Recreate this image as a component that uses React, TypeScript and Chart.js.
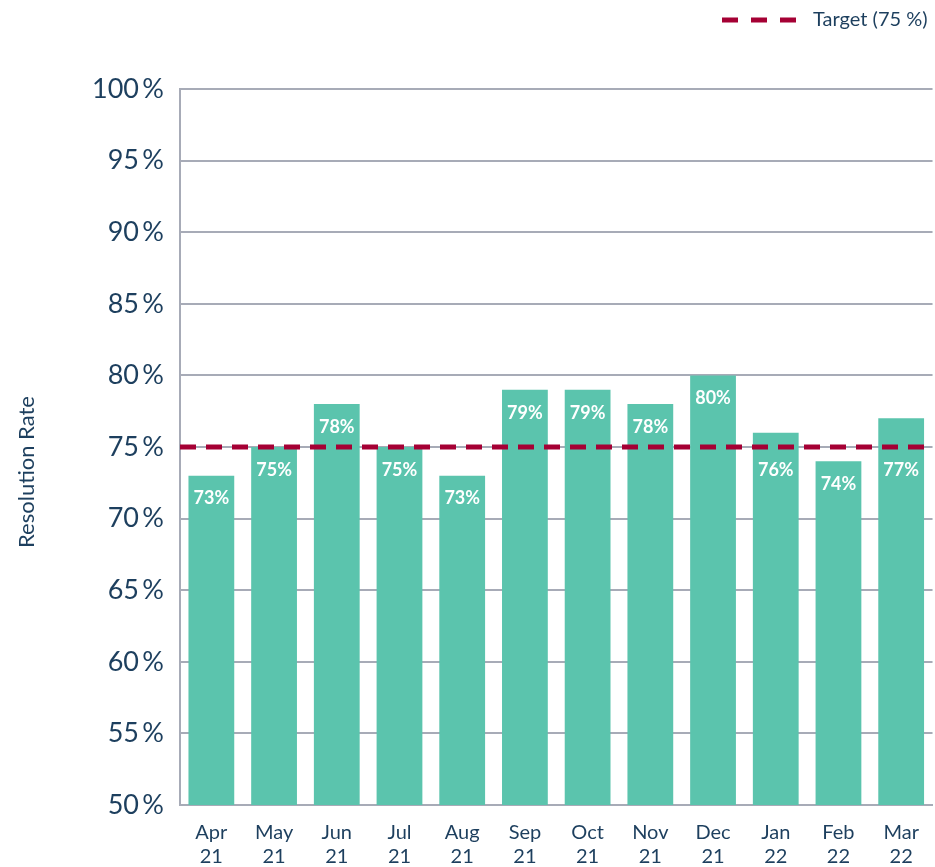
import React, { useEffect, useRef } from "react";
import { Chart, registerables } from "chart.js";

Chart.register(...registerables);

const MONTHS = ["Apr", "May", "Jun", "Jul", "Aug", "Sep", "Oct", "Nov", "Dec", "Jan", "Feb", "Mar"];
const YEARS = ["21", "21", "21", "21", "21", "21", "21", "21", "21", "22", "22", "22"];
const RESOLUTION = [73, 75, 78, 75, 73, 79, 79, 78, 80, 76, 74, 77];
const TARGET = 75;
const TARGET_LABEL = "Target (75 %)";
const Y_TITLE = "Resolution Rate";

const FONT = "Lato, 'Open Sans', sans-serif";
const TEXT = "#1D3F5E";
const GRID = "#A7ABB7";
const BAR = "#5BC4AD";
const RED = "#A50034";

const overlay = {
  id: "overlay",
  afterDatasetsDraw(chart: any) {
    const { ctx, chartArea, scales } = chart;
    const lineY = scales.y.getPixelForValue(TARGET);
    ctx.save();
    // target line
    ctx.strokeStyle = RED;
    ctx.lineWidth = 5;
    ctx.setLineDash([16, 10]);
    ctx.beginPath();
    ctx.moveTo(chartArea.left, lineY);
    ctx.lineTo(chartArea.right, lineY);
    ctx.stroke();
    // data labels
    const meta = chart.getDatasetMeta(0);
    ctx.fillStyle = "#FFFFFF";
    ctx.font = `bold 18px ${FONT}`;
    ctx.textAlign = "center";
    ctx.textBaseline = "middle";
    meta.data.forEach((bar: any, i: number) => {
      let y = bar.y + 23;
      if (Math.abs(y - lineY) < 16) y = lineY + 23;
      ctx.fillText(`${RESOLUTION[i]}%`, bar.x, y);
    });
    // legend
    ctx.beginPath();
    ctx.moveTo(722, 20);
    ctx.lineTo(798, 20);
    ctx.setLineDash([16, 13]);
    ctx.stroke();
    ctx.setLineDash([]);
    ctx.fillStyle = TEXT;
    ctx.font = `20px ${FONT}`;
    ctx.textAlign = "left";
    ctx.fillText(TARGET_LABEL, 813, 20);
    // y title
    ctx.translate(27, 472);
    ctx.rotate(-Math.PI / 2);
    ctx.textAlign = "center";
    ctx.font = `22px ${FONT}`;
    ctx.fillText(Y_TITLE, 0, 0);
    ctx.restore();
  },
};

export default function App() {
  const ref = useRef<HTMLCanvasElement>(null);
  useEffect(() => {
    document.body.style.margin = "0";
    const chart = new Chart(ref.current!, {
      type: "bar",
      data: {
        labels: MONTHS.map((m, i) => [m, YEARS[i]]),
        datasets: [
          {
            data: RESOLUTION,
            backgroundColor: BAR,
            barPercentage: 0.73,
            categoryPercentage: 1,
          },
        ],
      },
      options: {
        animation: false,
        responsive: false,
        layout: { padding: { top: 89, right: 2, left: 0, bottom: 0 } },
        plugins: { legend: { display: false }, tooltip: { enabled: false } },
        scales: {
          x: {
            grid: { display: false, drawTicks: false },
            border: { display: true, color: GRID, width: 2 },
            ticks: { color: TEXT, font: { family: FONT, size: 20, lineHeight: 1.2 }, padding: 16, maxRotation: 0, autoSkip: false },
            afterFit: (s: any) => { s.height = 62; },
          },
          y: {
            min: 50,
            max: 100,
            grid: { color: GRID, lineWidth: 2, drawTicks: false },
            border: { display: true, color: GRID, width: 2 },
            ticks: {
              stepSize: 5,
              color: TEXT,
              padding: 16,
              font: { family: FONT, size: 27 },
              callback: (v: any) => `${v}\u2009%`,
            },
            afterFit: (s: any) => { s.width = 180; },
          },
        },
      },
      plugins: [overlay],
    });
    return () => chart.destroy();
  }, []);
  return (
    <div style={{ position: "absolute", left: 0, top: 0, width: 935, height: 867 }}>
      <canvas ref={ref} width={935} height={867} style={{ display: "block" }} />
    </div>
  );
}
